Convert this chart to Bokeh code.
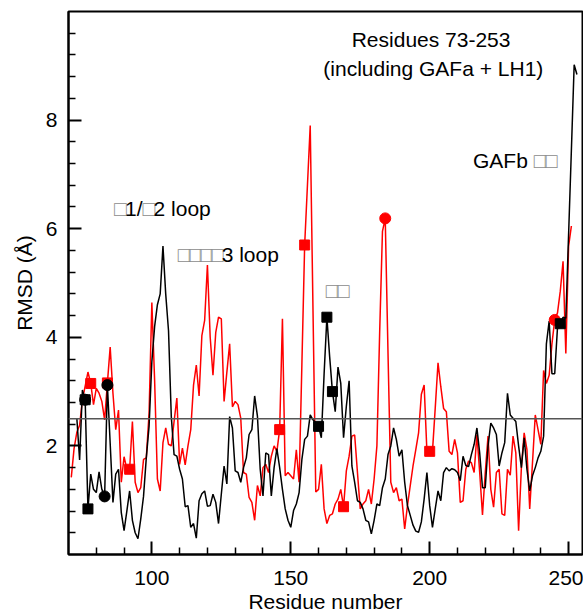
from bokeh.plotting import figure
from bokeh.models import Range1d, FixedTicker, Span, ColumnDataSource
from bokeh.embed import file_html
from bokeh.resources import INLINE
from bokeh.core.properties import value

# ---- data ----
black_start = 73
black_rmsd = [
    2.51, 1.74, 3.03, 2.85, 0.84, 1.48, 1.20, 1.14, 1.52, 1.20,   # 73-82
    1.07, 3.12, 2.05, 0.96, 1.48, 1.57, 0.77, 0.44, 0.80, 1.17,   # 83-92
    0.63, 0.40, 0.29, 0.65, 1.07, 1.78, 2.36, 3.55, 4.20, 4.60,   # 93-102
    4.80, 5.68, 4.79, 4.12, 2.54, 1.84, 1.81, 1.57, 1.39, 0.88,   # 103-112
    0.90, 0.50, 0.57, 0.30, 0.99, 1.12, 1.17, 0.89, 0.90, 1.11,   # 113-122
    0.96, 0.57, 1.11, 1.63, 1.30, 2.54, 2.33, 1.54, 1.51, 1.33,   # 123-132
    1.60, 1.78, 2.21, 2.30, 2.92, 2.55, 1.57, 1.08, 1.87, 1.84,   # 133-142
    1.08, 1.60, 1.95, 1.60, 1.20, 0.84, 0.63, 0.50, 0.81, 0.93,   # 143-152
    1.14, 1.75, 2.12, 2.18, 2.57, 2.48, 2.42, 2.36, 2.15, 3.33,   # 153-162
    4.37, 3.64, 3.00, 2.63, 3.45, 3.15, 2.15, 2.73, 3.20, 1.63,   # 163-172
    1.33, 0.99, 0.96, 0.84, 0.63, 0.60, 0.38, 0.63, 0.93, 0.90,   # 173-182
    1.23, 1.39, 1.84, 2.00, 2.33, 2.12, 1.81, 1.93, 1.33, 0.90,   # 183-192
    0.72, 0.54, 0.43, 0.41, 0.60, 1.02, 1.51, 0.90, 0.50, 0.84,   # 193-202
    1.17, 0.99, 1.51, 1.60, 1.54, 1.58, 1.56, 1.51, 1.36, 1.81,   # 203-212
    1.64, 1.62, 1.84, 2.03, 2.33, 1.87, 1.23, 1.23, 2.00, 2.42,   # 213-222
    2.33, 2.21, 1.63, 1.87, 2.06, 2.97, 2.57, 2.51, 2.45, 2.00,   # 223-232
    1.60, 2.15, 1.57, 1.17, 1.45, 1.60, 1.78, 1.90, 2.18, 3.88,   # 233-242
    4.30, 3.33, 3.33, 4.18, 4.25, 4.37, 4.35, 5.90, 7.45, 9.02,   # 243-252
    8.84,                                                         # 253
]
red_start = 71
red_rmsd = [
    1.42, 1.95, 2.25, 2.38, 2.85, 3.10, 3.36, 3.15, 2.76, 3.06,   # 71-80
    2.97, 2.82, 2.48, 3.16, 3.82, 2.97, 2.30, 2.66, 1.33, 1.80,   # 81-90
    1.57, 1.57, 2.45, 1.33, 1.14, 1.23, 1.75, 1.78, 2.60, 4.64,   # 91-100
    3.20, 1.39, 1.17, 2.06, 2.33, 2.03, 2.00, 2.45, 2.88, 1.66,   # 101-110
    1.96, 1.65, 2.00, 2.30, 3.12, 3.49, 2.92, 4.03, 4.31, 5.33,   # 111-120
    4.00, 3.30, 4.09, 4.37, 4.34, 2.82, 3.36, 3.88, 2.72, 2.82,   # 121-130
    2.76, 2.51, 1.51, 1.48, 1.05, 0.96, 0.63, 1.27, 1.08, 1.60,   # 131-140
    1.66, 1.51, 1.81, 2.00, 1.90, 2.30, 4.34, 1.45, 1.51, 1.45,   # 141-150
    1.39, 1.93, 1.33, 3.50, 5.70, 6.80, 7.90, 4.50, 1.15, 1.20,   # 151-160
    1.66, 0.84, 0.57, 0.72, 0.75, 0.93, 1.02, 1.20, 0.88, 1.54,   # 161-170
    1.81, 2.18, 2.20, 1.51, 0.84, 0.93, 0.99, 1.20, 0.93, 1.39,   # 171-180
    2.00, 4.10, 5.95, 6.19, 3.70, 1.33, 1.14, 1.23, 0.99, 1.02,   # 181-190
    0.47, 0.90, 1.27, 1.63, 1.93, 2.24, 2.95, 3.12, 1.90, 1.90,   # 191-200
    1.90, 2.70, 3.53, 3.09, 2.69, 2.63, 1.90, 1.84, 2.12, 1.87,   # 201-210
    0.96, 0.99, 1.57, 1.72, 1.69, 1.51, 2.21, 1.51, 0.73, 1.51,   # 211-220
    2.18, 1.20, 0.87, 1.51, 1.57, 0.75, 0.72, 1.57, 1.46, 2.18,   # 221-230
    1.87, 0.44, 1.60, 2.24, 1.93, 0.84, 1.69, 2.57, 2.30, 2.03,   # 231-240
    3.39, 3.15, 3.30, 3.88, 4.32, 4.45, 4.85, 5.40, 3.70, 5.68,   # 241-250
    6.05,                                                         # 251
]
black_square_res = [76, 77, 160, 163, 165, 247]
black_circle_res = [76, 83, 84]
red_square_res = [78, 84, 92, 146, 155, 169, 200]
red_circle_res = [184, 245]
threshold = 2.5

x_major = [100, 150, 200, 250]
x_minor = [80, 90, 110, 120, 130, 140, 160, 170, 180, 190, 210, 220, 230, 240]
y_major = [2, 4, 6, 8]
y_minor = [0.4, 0.8, 1.2, 1.6, 2.4, 2.8, 3.2, 3.6, 4.4, 4.8, 5.2, 5.6,
           6.4, 6.8, 7.2, 7.6, 8.4, 8.8, 9.2, 9.6]

x_title = "Residue number"
y_title = "RMSD (\u00c5)"
BOX = "\u25a1"
title_lines = [("Residues 73-253", 200.5, 9.48), ("(including GAFa + LH1)", 201.3, 8.95)]
# labels whose original glyphs show as empty boxes; (pieces, x, y)
box_labels = [
    ([BOX, "1/", BOX, "2 loop"], 86.4, 6.37),
    ([BOX, BOX, BOX, BOX, "3 loop"], 109.3, 5.53),
    ([BOX, BOX], 162.6, 4.87),
    (["GAFb ", BOX, BOX], 215.6, 7.25),
]

# ---- build ----
black_res = list(range(black_start, black_start + len(black_rmsd)))
red_res = list(range(red_start, red_start + len(red_rmsd)))
bmap = dict(zip(black_res, black_rmsd))
rmap = dict(zip(red_res, red_rmsd))

FONT = "Liberation Sans"
FS = 21
# Arial advance widths (em) for the characters used in the labels
ADV = {"1": .556, "2": .556, "3": .556, "/": .278, " ": .278, "l": .222, "o": .556,
       "p": .556, "G": .778, "A": .667, "F": .611, "b": .556}
BOX_ADV = 11.0

p = figure(width=583, height=615, x_range=Range1d(70, 255), y_range=Range1d(0, 10),
           output_backend="svg", toolbar_location=None,
           min_border_left=68, min_border_right=1, min_border_top=11, min_border_bottom=60)
p.xgrid.visible = False
p.ygrid.visible = False
p.outline_line_color = "black"
p.outline_line_width = 2
p.background_fill_color = "white"
p.border_fill_color = "white"

p.xaxis.ticker = FixedTicker(ticks=x_major, minor_ticks=x_minor)
p.yaxis.ticker = FixedTicker(ticks=y_major, minor_ticks=y_minor)
p.xaxis.axis_label = x_title
p.yaxis.axis_label = y_title
for ax in (p.xaxis, p.yaxis):
    ax.major_tick_in = 13
    ax.major_tick_out = 0
    ax.minor_tick_in = 7
    ax.minor_tick_out = 0
    ax.axis_line_width = 2
    ax.major_tick_line_width = 2
    ax.minor_tick_line_width = 1.5
    ax.axis_line_color = "black"
    ax.major_tick_line_color = "black"
    ax.minor_tick_line_color = "black"
    ax.major_label_text_font = FONT
    ax.major_label_text_font_size = f"{FS}px"
    ax.major_label_text_color = "black"
    ax.axis_label_text_font = FONT
    ax.axis_label_text_font_size = f"{FS}px"
    ax.axis_label_text_font_style = "normal"
    ax.axis_label_text_color = "black"
p.xaxis.major_label_standoff = 16
p.xaxis.axis_label_standoff = 2
p.yaxis.major_label_standoff = 11
p.yaxis.axis_label_standoff = 7

p.add_layout(Span(location=threshold, dimension="width", line_color="#555555", line_width=1.5))

p.line(red_res, red_rmsd, line_color="#ff0000", line_width=1.5)
p.line(black_res, black_rmsd, line_color="black", line_width=1.5)

p.scatter(red_square_res, [rmap[r] for r in red_square_res],
          marker="square", size=10, fill_color="#ff0000", line_color="#ff0000")
p.scatter(red_circle_res, [rmap[r] for r in red_circle_res],
          marker="circle", size=11, fill_color="#ff0000", line_color="#ff0000")
p.scatter(black_circle_res, [bmap[r] for r in black_circle_res],
          marker="circle", size=11, fill_color="black", line_color="black")
p.scatter(black_square_res, [bmap[r] for r in black_square_res],
          marker="square", size=10, fill_color="black", line_color="black")

p.text(x=[t[1] for t in title_lines], y=[t[2] for t in title_lines],
       text=[t[0] for t in title_lines], text_align="center", text_baseline="middle",
       text_font=value(FONT), text_font_size=f"{FS}px", text_color="black")

xs, ys, ts, offs, cols = [], [], [], [], []
for pieces, x0, y0 in box_labels:
    off = 0.0
    for piece in pieces:
        xs.append(x0); ys.append(y0); ts.append(piece); offs.append(off)
        if piece == BOX:
            cols.append("#8c8c8c")
            off += BOX_ADV
        else:
            cols.append("black")
            off += sum(ADV.get(c, .556) for c in piece) * FS
src = ColumnDataSource(dict(x=xs, y=ys, t=ts, xo=offs, c=cols))
p.text(x="x", y="y", text="t", x_offset="xo", text_color="c", source=src,
       text_align="left", text_baseline="middle",
       text_font=value(FONT), text_font_size=f"{FS}px")

open("out.html", "w").write(file_html(p, INLINE))
